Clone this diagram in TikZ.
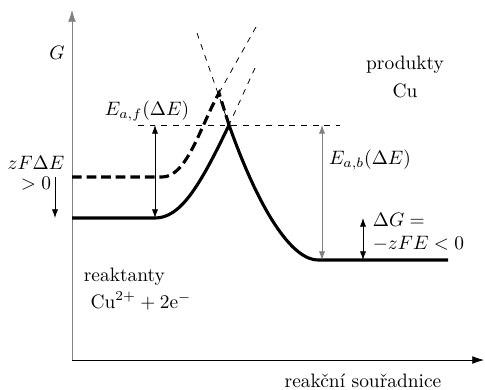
\documentclass[tikz,border=0pt]{standalone}
\usetikzlibrary{arrows.meta,positioning}
\begin{document}
\begin{tikzpicture}[x=0.515pt, y=-0.515pt,
  axis/.style={-{Latex[length=6pt,width=4pt]}},
  level/.style={line width=1.6pt},
  shifted/.style={line width=1.6pt, dash pattern=on 5pt off 2.5pt},
  guide/.style={thin, dashed},
  gap/.style={{Latex[length=4.5pt,width=3.2pt]}-{Latex[length=4.5pt,width=3.2pt]}},
  onegap/.style={-{Latex[length=4.5pt,width=3.2pt]}}
]
\useasboundingbox (0,0) rectangle (485,389);

% key points of the curves
\coordinate (origin) at (72,360);
\coordinate (ytop)   at (72,10);
\coordinate (xend)   at (484,360);
\coordinate (r0)     at (72,218);
\coordinate (r1)     at (155,218);
\coordinate (peak)   at (229,125);
\coordinate (p0)     at (318,260);
\coordinate (p1)     at (448,260);
\coordinate (d0)     at (72,177);
\coordinate (d1)     at (162,177);
\coordinate (dpeak)  at (219,93);

% ends of the guide lines
\coordinate (gA) at (197,33);
\coordinate (gB) at (256,27);
\coordinate (gC) at (255,68);
\coordinate (hl) at (138,125);
\coordinate (hr) at (340,125);

% arrow feet
\coordinate (zf0) at (55,177);
\coordinate (zf1) at (55,218);
\coordinate (eab) at (322,260);
\coordinate (dg0) at (363,218);
\coordinate (dg1) at (363,260);

% axes
\draw[axis, gray] (origin) -- (ytop);
\draw[axis] (origin) -- (xend);

% guide lines
\draw[guide] (gA) -- (peak);
\draw[guide] (gB) -- (dpeak);
\draw[guide] (gC) -- (peak);
\draw[guide] (hl) -- (hr);

% energy profiles
\draw[level] (r0) -- (r1) .. controls (180,218) and (199,188) .. (peak)
  .. controls (262,218) and (294,260) .. (p0) -- (p1);
\draw[shifted] (d0) -- (d1) .. controls (187,177) and (200,127) .. (dpeak) -- (peak);

% barriers and differences
\draw[gap] (r1 |- hl) -- (r1);
\draw[gap, gray] (eab |- hr) -- (eab);
\draw[onegap] (zf0) -- (zf1);
\draw[gap] (dg0) -- (dg1);

% labels
\node (glabel) at (57,53) {$G$};
\node[align=center] (zflabel) at (36,173) {$zF\Delta E$\\[-1.5pt]$>0$};
\node (eaflabel) at (147,111) {$E_{a,f}(\Delta E)$};
\node (eablabel) at (370,160) {$E_{a,b}(\Delta E)$};
\node[align=center] (prod) at (405,77) {produkty\\[2pt]Cu};
\node[align=left, anchor=west] (react) at (77,289)
  {reaktanty\\[2pt]\hspace{3.5pt}$\mathrm{Cu}^{2+}+2\mathrm{e}^-$};
\node[align=left, anchor=west] (dglabel) at (366,232) {$\Delta G=$\\$-zFE<0$};
\node (xlabel) at (363,381) {reakční souřadnice};

\end{tikzpicture}
\end{document}
